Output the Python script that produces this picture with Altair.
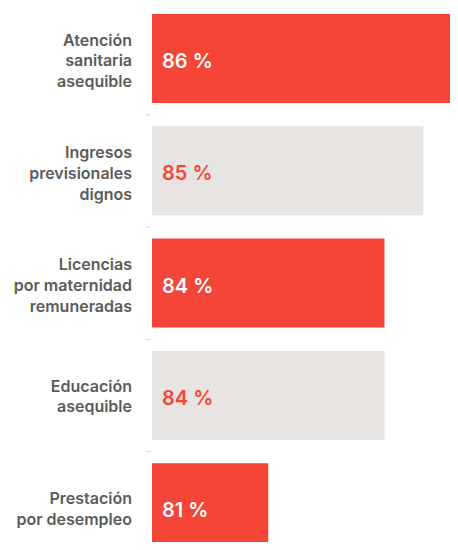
import altair as alt
import pandas as pd

categories = [
    "Atención\nsanitaria\nasequible",
    "Ingresos\nprevisionales\ndignos",
    "Licencias\npor maternidad\nremuneradas",
    "Educación\nasequible",
    "Prestación\npor desempleo",
]
values = [86, 85, 84, 84, 81]
value_labels = ["86 %", "85 %", "84 %", "84 %", "81 %"]
highlight = [True, False, True, False, True]

df = pd.DataFrame({"cat": categories, "value": values, "label": value_labels, "hl": highlight})

RED = "#F44536"
GREY = "#E8E4E1"
TXT = "#5B5B5B"
FONT = "Inter"
LH = 20.8

yscale = alt.Scale(range=[0, 550.2], paddingInner=0.2075, paddingOuter=0.0534)
y = alt.Y("cat:N", sort=categories, axis=None, scale=yscale)
x = alt.X("value:Q", scale=alt.Scale(domain=[78, 86], range=[0, 310]), axis=None)

base = alt.Chart(df)

bars = base.mark_bar(clip=True).encode(
    x=x,
    y=y,
    color=alt.condition("datum.hl", alt.value(RED), alt.value(GREY)),
)

vals = base.mark_text(align="left", baseline="middle", fontSize=20, fontWeight=600, font=FONT, dy=3.5).encode(
    x=alt.value(10),
    y=y,
    text="label:N",
    color=alt.condition("datum.hl", alt.value("white"), alt.value(RED)),
)


def cat_layer(n, extra):
    return base.transform_filter(
        f"length(split(datum.cat, '\\n')) == {n}"
    ).mark_text(
        align="right", baseline="middle", fontSize=16, fontWeight=600, font=FONT,
        lineBreak="\n", lineHeight=LH, color=TXT, dy=-(n - 1) * LH / 2 + extra,
    ).encode(
        x=alt.value(-20),
        y=y,
        text="cat:N",
    )


ticks = base.transform_window(rank="row_number()").transform_filter("datum.rank > 1").mark_rule(
    color="#D9D9D9", strokeWidth=1, yOffset=-11.5
).encode(
    x=alt.value(-6),
    x2=alt.value(-1),
    y=alt.Y("cat:N", sort=categories, axis=None, scale=yscale, bandPosition=0),
)

chart = (bars + ticks + cat_layer(3, 3) + cat_layer(2, 1.5) + vals).properties(
    width=298,
    height=534,
    autosize=alt.AutoSizeParams(type="none"),
    padding={"left": 144, "top": 0, "right": 0, "bottom": 0},
).configure_view(stroke=None)

chart.save("out.html", embed_options={"renderer": "svg", "actions": False})
